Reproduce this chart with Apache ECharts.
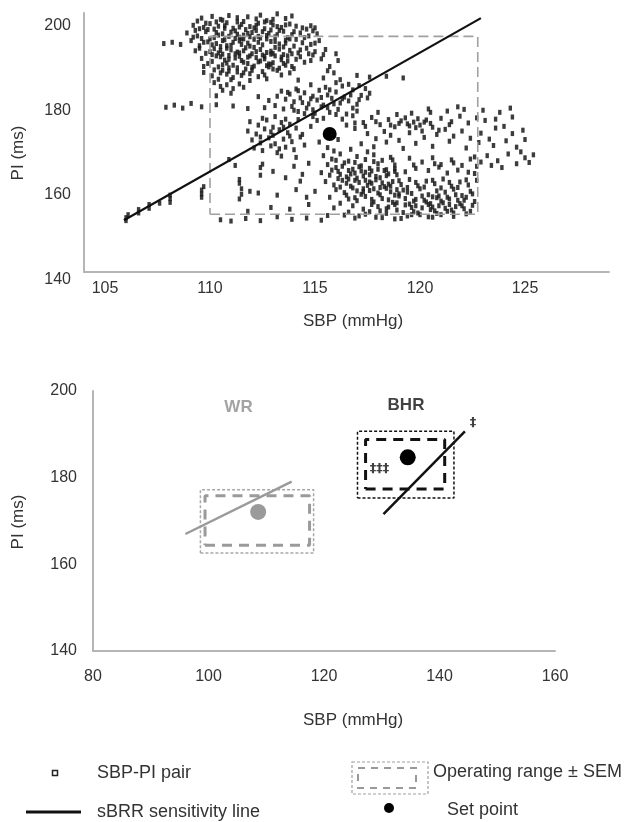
<!DOCTYPE html>
<html>
<head>
<meta charset="utf-8">
<script src="https://cdn.jsdelivr.net/npm/echarts@6/dist/echarts.min.js"></script>
<style>
html,body{margin:0;padding:0;background:#fff;}
#chart{width:630px;height:822px;}
</style>
</head>
<body>
<div id="chart"></div>
<script>
// ---------- DATA ----------
// Top panel: individual SBP (mmHg) - PI (ms) pairs
const pairsUpperCluster = [
[109.6,199.8],[110.1,200.2],[110.5,199.5],[110.9,200.4],[111.3,199.9],[111.8,200.1],[112.2,199.6],[113.2,200.8],[113.6,199.7],[113.9,200.3],[110.3,198.9],[112.7,199.2],
[109.2,198.1],[109.7,197.6],[110.0,198.5],[110.4,197.9],[110.8,198.7],[111.1,197.4],[111.5,198.3],[111.9,197.8],[112.3,198.6],[112.6,197.3],[113.0,198.2],[113.4,197.6],[113.8,198.4],[114.1,197.9],[114.6,197.2],[115.0,197.5],[109.9,197.1],[111.3,198.9],[112.9,197.0],
[108.9,196.3],[109.4,195.6],[109.8,196.6],[110.2,195.2],[110.6,196.1],[110.9,195.5],[111.2,196.8],[111.6,195.8],[112.0,196.4],[112.4,195.1],[112.8,196.2],[113.1,195.4],[113.5,196.7],[113.9,195.9],[114.3,196.3],[114.7,195.6],[115.1,196.1],[109.6,195.0],[111.4,195.3],[112.2,196.9],[113.7,195.2],[114.9,196.8],
[108.2,194.1],[108.6,193.6],[109.1,194.5],[109.5,193.3],[109.9,194.2],[110.3,193.8],[110.7,194.7],[111.0,193.4],[111.4,194.4],[111.8,193.9],[112.1,194.8],[112.5,193.5],[112.9,194.3],[113.3,193.7],[113.6,194.6],[114.0,193.2],[114.4,194.0],[114.8,193.6],[115.2,194.5],[107.8,193.8],[110.5,193.1],[111.6,194.9],[113.8,194.9],
[109.3,192.1],[109.8,191.5],[110.2,192.6],[110.6,191.3],[111.0,192.3],[111.3,191.8],[111.7,192.8],[112.0,191.4],[112.4,192.4],[112.7,191.7],[113.1,192.9],[113.5,191.2],[113.8,192.2],[114.2,191.6],[114.6,192.7],[115.0,191.9],[115.5,192.4],[116.0,191.4],[110.9,191.0],[112.9,192.0],[114.9,191.1],
[109.6,190.3],[110.1,189.6],[110.5,190.7],[110.8,189.2],[111.2,190.4],[111.5,189.8],[111.9,190.9],[112.3,189.5],[112.6,190.2],[113.0,189.3],[113.4,190.6],[113.7,189.7],[114.1,190.1],[114.5,189.4],[115.3,190.2],[116.1,189.8],[110.3,190.9],[112.8,189.0],
[109.7,188.4],[110.2,187.6],[110.6,188.8],[110.9,187.3],[111.3,188.1],[111.7,187.8],[112.1,188.5],[112.5,187.2],[112.8,188.3],[113.2,187.5],[113.6,188.7],[114.0,187.9],[115.6,187.4],[109.7,187.0],
[110.1,186.2],[110.4,185.4],[110.8,186.6],[111.1,185.8],[111.5,186.3],[111.9,185.1],[112.3,186.0],[112.7,185.5],[113.4,186.4],[114.2,185.2],[117.0,186.3],[117.6,185.9],[118.4,186.1],[119.2,185.7],
[110.2,184.6],[110.5,183.7],[110.8,184.1],[111.1,183.2],[111.4,184.3],[110.6,182.8],[111.0,182.1],[110.3,181.5],[111.6,183.5],
[107.9,178.8],[108.3,179.3],[108.7,178.6],[109.1,179.7],[109.6,178.9],[110.3,179.4],[111.1,179.1],[111.8,178.5],
[115.7,188.4],[115.9,186.9],[116.2,185.3],[115.4,185.7],[116.6,184.2],[117.1,183.9]
];
const pairsUpperCore = [
[109.8,198.6],[110.2,197.2],[110.7,198.0],[111.0,196.5],[111.4,197.7],[111.8,196.2],[112.1,197.5],[112.5,196.6],[112.9,198.8],[113.3,196.9],[110.0,194.9],[110.4,195.8],[110.8,193.3],[111.2,195.0],[111.5,193.6],[111.9,195.4],[112.3,194.1],[112.7,195.7],[113.1,194.3],[113.5,193.0],
[110.1,191.2],[110.5,192.2],[110.9,190.1],[111.4,191.6],[111.8,190.6],[112.2,191.9],[112.6,190.8],[113.0,191.5],[113.4,190.0],[113.9,191.4],[110.7,189.9],[111.1,188.7],[111.6,189.4],[112.0,188.2],[112.4,189.7],[112.9,188.9],[113.3,188.0],[111.3,187.1],[111.9,186.7],[110.6,187.5],
[109.4,199.1],[110.6,199.3],[111.6,199.0],[112.4,200.5],[113.0,199.5],[109.3,196.9],[109.5,197.3],[110.3,196.4],[110.7,197.4],[111.3,196.0],[111.7,197.1],[112.2,198.1],[112.6,198.9],[113.2,197.8],[113.6,198.2],[114.0,196.6],[114.4,197.5],[114.8,198.0],
[109.2,195.3],[109.7,194.1],[110.1,193.5],[110.6,194.5],[111.1,194.1],[111.5,194.9],[111.9,193.2],[112.3,195.5],[112.7,194.9],[113.2,195.9],[113.6,193.9],[114.1,194.8],[114.5,195.2],[115.0,193.9],
[109.5,192.7],[110.0,191.9],[110.4,191.6],[110.8,192.7],[111.2,191.4],[111.6,192.1],[112.1,192.9],[112.5,191.1],[112.9,191.3],[113.3,192.5],[113.7,190.9],[114.3,192.3],[114.7,191.4],[115.4,191.2],
[109.9,189.1],[110.4,188.3],[110.9,188.1],[111.4,190.8],[111.8,189.1],[112.2,190.5],[112.7,188.6],[113.1,190.9],[113.5,189.1],[113.9,188.4],[114.3,190.7],[114.8,189.8],[110.5,186.9],[111.0,185.3],[111.6,186.9],[112.0,187.5],[112.6,186.4],[113.0,187.8],[113.8,186.9]
];
const pairsMiddleCluster = [
[113.4,182.6],[113.8,181.9],[114.1,183.1],[114.5,182.2],[114.9,181.4],[115.2,182.8],[115.6,181.7],[116.0,182.4],[116.4,181.2],[116.8,182.9],[117.2,181.6],[117.6,182.1],[113.6,180.7],[114.0,180.1],[114.3,181.0],[114.7,179.6],[115.1,180.5],[115.4,179.3],[115.8,180.9],[116.2,179.8],[116.6,180.3],[117.0,179.5],
[113.1,179.2],[113.5,178.4],[113.9,179.0],[114.2,177.8],[114.6,178.6],[115.0,177.4],[115.3,178.9],[115.7,177.6],[116.1,178.3],[116.5,177.2],[112.8,180.4],[112.3,181.3],[112.6,178.7],[115.5,183.5],[116.3,183.8],[117.4,183.2],[114.8,184.1],[116.0,184.6],
[111.9,175.4],[112.3,174.6],[112.7,175.8],[113.0,174.1],[113.4,175.2],[113.8,174.8],[114.2,175.9],[111.8,173.2],[112.2,172.5],[112.6,173.7],[113.0,172.2],[113.3,173.5],[113.7,172.8],[114.1,173.9],[114.4,172.4],
[112.0,171.1],[112.4,170.4],[112.8,171.6],[113.1,170.2],[113.5,171.3],[113.9,170.7],[114.3,171.8],[112.1,169.2],[112.5,168.6],[112.9,169.7],[113.2,168.1],[113.6,169.4],[114.0,168.8],[114.5,169.9],[113.4,167.3],[114.1,167.0],
[114.8,174.3],[115.1,175.7],[114.9,176.6],[115.4,176.2],[116.3,176.0],[116.9,175.1],[115.2,170.6],[115.6,169.3],[116.1,171.2],
[113.2,181.4],[113.7,182.3],[114.2,182.7],[114.4,179.9],[114.8,180.8],[115.3,181.1],[115.7,182.9],[115.9,179.6],[116.3,180.8],[116.7,181.7],[117.1,180.6],[117.5,181.0],[114.0,178.1],[114.5,177.3],[114.9,178.2],[115.6,178.7],[116.0,177.1],[116.8,178.6],
[112.5,176.2],[113.1,176.6],[113.6,176.0],[112.9,173.0],[113.5,174.1],[112.4,171.8],[113.3,169.0],[113.8,172.0]
];
const pairsRightCluster = [
[116.8,176.8],[117.3,175.2],[117.7,176.4],[118.1,174.7],[118.5,175.9],[118.8,174.2],[119.1,175.6],[119.4,174.9],[119.7,175.3],[120.0,174.6],[120.3,175.8],[120.6,174.1],[119.3,176.3],[119.9,176.1],
[118.3,173.1],[117.5,172.6],[117.9,171.4],[118.6,172.2],[119.0,171.0],[119.5,172.8],[120.2,171.7],[120.8,172.4],[121.2,173.6],[121.6,172.0],[122.0,173.2],[122.4,171.5],[122.9,172.7],[123.3,171.3],
[121.0,176.2],[121.5,175.4],[121.9,176.7],[122.3,175.1],[122.7,176.3],[123.1,175.7],[123.6,176.0],[124.0,174.3],[124.4,176.5],[120.5,177.6],[121.3,177.9],[122.1,178.3],[123.0,178.1],[123.8,177.6],[124.3,178.6],[120.4,178.4],[121.8,178.9],
[117.2,170.2],[117.8,169.5],[118.4,170.6],[119.2,169.1],[119.8,170.3],[120.6,169.6],[121.4,170.8],[122.2,169.2],[122.8,170.5],[123.5,169.8],[124.1,170.9],[124.6,169.4],[116.9,173.8],[117.4,174.3],[118.9,177.1],[119.6,177.4],[120.1,173.2],[116.5,174.6],[117.0,177.9],[118.0,177.6],
[123.2,167.4],[123.7,166.2],[124.2,167.8],[124.6,165.5],[125.0,166.9],[125.4,167.6],[125.2,165.8],[124.8,168.3],[123.9,164.6],[123.4,165.1],[124.4,172.6],[125.0,171.2],[124.9,173.4],[123.6,173.9],[122.6,167.1],[122.9,165.9],
[119.0,175.0],[119.5,174.4],[119.8,174.0],[120.2,175.3],[120.5,175.0],[118.6,174.6],[117.9,175.4],[121.4,174.7],[120.9,173.4]
];
const pairsLowerCluster = [
[115.4,167.4],[115.8,166.6],[116.2,167.8],[116.6,166.1],[117.0,167.2],[117.4,166.5],[117.8,167.6],[118.2,166.3],[118.6,167.0],[115.6,165.3],[116.0,164.6],[116.4,165.7],[116.8,164.2],[117.2,165.0],[117.6,164.4],[118.0,165.5],[118.4,164.1],[118.8,165.2],
[115.3,163.4],[115.7,162.8],[116.1,163.7],[116.5,162.4],[116.9,163.3],[117.3,162.6],[117.7,163.8],[118.1,162.2],[118.5,163.1],[118.9,162.9],[119.3,163.6],[115.9,168.5],[116.7,168.9],[117.5,168.3],
[119.5,166.8],[120.1,165.9],[120.6,166.9],[121.0,165.3],[121.5,166.4],[122.0,165.1],[122.4,166.6],[119.8,164.4],[120.4,163.9],[120.9,164.7],[121.3,163.3],[121.8,164.0],[122.3,163.5],[122.7,164.9],
[115.5,161.3],[115.9,160.5],[116.3,161.6],[116.7,160.2],[117.1,161.1],[117.5,160.4],[117.9,161.7],[118.3,160.1],[118.7,161.3],[119.1,160.6],[119.5,161.8],[119.9,160.3],[120.3,161.4],[120.7,160.8],[121.1,161.9],[121.5,160.2],[121.9,161.2],[122.3,160.5],[122.7,161.6],
[116.0,159.4],[116.4,158.7],[116.8,159.8],[117.2,158.3],[117.6,159.2],[118.0,158.6],[118.4,159.7],[118.8,158.1],[119.2,159.3],[119.6,158.5],[120.0,159.6],[120.4,158.2],[120.8,159.1],[121.2,158.8],[121.6,159.5],[122.0,158.0],[122.4,159.0],
[115.7,157.6],[116.6,157.2],[117.4,157.8],[118.2,157.3],[119.0,157.9],[119.8,157.1],[120.6,157.7],[121.4,157.2],[122.2,157.6],[117.0,156.8],[117.8,156.5],
[116.8,155.6],[117.3,154.8],[117.7,155.9],[118.1,154.4],[118.5,155.3],[118.9,154.6],[119.3,155.8],[119.7,154.2],[120.1,155.1],[120.5,154.7],[120.9,155.6],[121.3,154.3],[121.7,155.4],[122.1,154.9],[122.5,155.7],
[116.4,153.4],[116.9,152.7],[117.4,153.6],[117.9,152.9],[118.4,153.8],[118.8,152.5],[119.4,153.2],[119.9,153.9],[120.4,153.0],[121.0,153.5],[121.6,153.1],[122.2,153.7],
[116.2,156.2],[118.7,156.4],[119.5,156.0],[120.3,156.5],[121.1,156.3],[121.9,156.1],[122.6,156.6],[116.6,154.1],[115.9,155.1]
];
const pairsLowerCore = [
[116.2,163.0],[116.6,163.9],[117.0,162.1],[117.4,163.5],[117.9,162.5],[118.3,163.9],[116.9,161.6],[117.3,159.6],[117.7,160.9],[118.1,159.9],[118.5,160.7],[118.9,159.4],[116.5,160.9],[116.1,162.0],[118.6,158.9],
[119.0,158.4],[119.4,158.8],[119.8,155.6],[120.2,156.9],[120.6,155.3],[121.0,156.7],[121.4,155.9],[121.8,156.9],[120.8,157.5],[119.6,153.5],[120.7,154.4],[121.5,154.6],[117.6,161.2],[118.8,163.7],[117.1,164.8],
[115.8,164.0],[116.3,164.9],[116.7,163.1],[117.2,163.8],[117.6,162.9],[118.0,164.2],[118.4,162.7],[118.8,164.3],[116.2,160.0],[116.6,161.9],[117.0,159.1],[117.4,161.6],[117.8,159.6],[118.2,161.0],[118.6,160.2],[119.0,161.5],[119.4,159.9],[119.8,161.1],[120.2,160.0],[120.6,161.6],[121.0,159.8],[121.4,161.1],[121.8,159.9],[122.2,161.7],
[116.5,158.1],[116.9,157.5],[117.3,158.9],[117.7,157.1],[118.1,158.2],[118.5,157.0],[118.9,156.3],[119.3,157.3],[119.7,156.7],[120.1,157.9],[120.5,156.1],[120.9,157.9],[121.3,157.6],[121.7,158.2],[122.1,156.9],[122.5,158.4],
[117.6,154.2],[118.0,155.4],[118.4,154.9],[118.8,155.9],[119.2,154.0],[119.6,155.2],[120.0,153.5],[120.4,155.9],[120.8,153.8],[121.2,155.0],[121.6,153.9],[122.0,155.6],[122.4,154.3],[117.1,153.2],[118.2,152.8],[119.1,152.6],[120.6,152.9],
[116.0,166.3],[116.9,165.8],[117.8,166.0],[118.7,166.4],[119.7,165.2],[120.7,165.5],[121.6,165.7],[122.6,163.2]
];
const pairsSparse = [
[106.0,152.1],[106.0,152.8],[106.1,153.5],[106.6,153.9],[106.6,154.7],[107.1,155.0],[107.1,155.9],[107.6,156.2],[108.1,156.4],[108.1,157.3],[108.1,158.1],[109.6,157.6],[109.6,158.4],[109.6,159.3],[109.7,160.1],
[111.4,161.8],[111.4,160.9],[111.5,159.6],[111.5,158.3],[111.4,157.2],[111.9,159.0],[112.3,158.6],[112.4,162.8],[112.4,164.6],[112.5,165.4],[113.0,163.7],[113.6,162.2],[114.0,164.9],[114.4,163.0],[114.7,165.6],
[113.2,158.1],[114.1,159.4],[114.6,157.6],[115.0,159.0],[114.3,161.4],[112.9,155.2],[113.8,154.8],[114.7,155.9],
[110.5,152.3],[111.0,152.0],[111.7,152.6],[112.4,152.1],[113.2,153.0],[113.9,152.4],[114.6,152.7],[115.3,152.2],[115.6,153.3],[111.8,154.3],[110.9,166.5],[111.2,165.1]
];

// Top panel summary values
const topRangeSbp = [110.0, 122.75];
const topRangePi = [153.6, 195.5];
const topLineSbp = [105.9, 122.9];
const topLinePi = [152.2, 199.8];
const topSetPoint = [115.7, 172.5];

// Bottom panel: WR and BHR group summaries
const groupNames = ['WR', 'BHR'];
const groupNamePos = [[105.2, 196.3], [134.2, 196.7]];
const wrOuterSbp = [98.6, 118.2];
const wrOuterPi = [162.6, 177.2];
const wrInnerSbp = [99.4, 117.5];
const wrInnerPi = [164.4, 175.8];
const wrLineSbp = [96.0, 114.4];
const wrLinePi = [167.0, 179.1];
const wrSetPoint = [108.6, 172.1];
const bhrOuterSbp = [125.8, 142.5];
const bhrOuterPi = [175.3, 190.7];
const bhrInnerSbp = [127.2, 140.9];
const bhrInnerPi = [177.4, 188.8];
const bhrLineSbp = [130.3, 144.4];
const bhrLinePi = [171.6, 190.7];
const bhrSetPoint = [134.5, 184.7];
const markText = ['‡‡‡', '‡'];
const markPos = [[129.6, 182.1], [145.8, 192.6]];

// Axis ticks
const topXTicks = [105, 110, 115, 120, 125];
const topYTicks = [140, 160, 180, 200];
const botXTicks = [80, 100, 120, 140, 160];
const botYTicks = [140, 160, 180, 200];

// ---------- HELPERS ----------
function rectPath(xs, ys) {
  return [[xs[0], ys[0]], [xs[1], ys[0]], [xs[1], ys[1]], [xs[0], ys[1]], [xs[0], ys[0]]];
}
function seg(xs, ys) { return [[xs[0], ys[0]], [xs[1], ys[1]]]; }

const FONT = '"Liberation Sans", Arial, Helvetica, sans-serif';
const axisColor = '#b5b5b5';
const labelColor = '#333';

function lineSeries(xi, data, color, width, type) {
  return {
    type: 'line', xAxisIndex: xi, yAxisIndex: xi, data: data,
    symbol: 'none', silent: true, animation: false,
    lineStyle: { color: color, width: width, type: type || 'solid', cap: 'butt' },
    z: 3
  };
}
function dotSeries(xi, pt, color, size) {
  return {
    type: 'scatter', xAxisIndex: xi, yAxisIndex: xi, data: [pt],
    symbol: 'circle', symbolSize: size, itemStyle: { color: color, opacity: 1 }, z: 5, silent: true
  };
}

const allPairs = [].concat(pairsUpperCluster, pairsUpperCore, pairsMiddleCluster, pairsRightCluster, pairsLowerCluster, pairsLowerCore, pairsSparse);

const chart = echarts.init(document.getElementById('chart'), null, { renderer: 'canvas' });

const option = {
  animation: false,
  backgroundColor: '#fff',
  textStyle: { fontFamily: FONT },
  grid: [
    { left: 84, top: 13, width: 525, height: 259 },
    { left: 93, top: 391, width: 462, height: 260 }
  ],
  xAxis: [
    {
      gridIndex: 0, type: 'value', min: 104, max: 129, interval: 1,
      axisLine: { show: true, onZero: false, lineStyle: { color: axisColor, width: 2 } },
      axisTick: { show: false }, splitLine: { show: false },
      axisLabel: {
        color: labelColor, fontSize: 16, fontFamily: FONT, margin: 9,
        formatter: v => topXTicks.indexOf(v) >= 0 ? String(v) : ''
      }
    },
    {
      gridIndex: 1, type: 'value', min: 80, max: 160, interval: 20,
      axisLine: { show: true, onZero: false, lineStyle: { color: axisColor, width: 2 } },
      axisTick: { show: false }, splitLine: { show: false },
      axisLabel: {
        color: labelColor, fontSize: 16, fontFamily: FONT, margin: 18,
        formatter: v => botXTicks.indexOf(v) >= 0 ? String(v) : ''
      }
    }
  ],
  yAxis: [
    {
      gridIndex: 0, type: 'value', min: 140, max: 201, interval: 20,
      axisLine: { show: true, onZero: false, lineStyle: { color: axisColor, width: 2 } },
      axisTick: { show: false }, splitLine: { show: false },
      axisLabel: {
        color: labelColor, fontSize: 16, fontFamily: FONT, margin: 13, verticalAlign: 'top',
        formatter: v => topYTicks.indexOf(v) >= 0 ? String(v) : ''
      }
    },
    {
      gridIndex: 1, type: 'value', min: 140, max: 200, interval: 20,
      axisLine: { show: true, onZero: false, lineStyle: { color: axisColor, width: 2 } },
      axisTick: { show: false }, splitLine: { show: false },
      axisLabel: {
        color: labelColor, fontSize: 16, fontFamily: FONT, margin: 16,
        formatter: v => botYTicks.indexOf(v) >= 0 ? String(v) : ''
      }
    }
  ],
  series: [
    {
      type: 'scatter', xAxisIndex: 0, yAxisIndex: 0, data: allPairs,
      symbol: 'rect', symbolSize: [3.4, 5],
      itemStyle: { color: '#1a1a1a', opacity: 0.85 }, silent: true, z: 2
    },
    lineSeries(0, rectPath(topRangeSbp, topRangePi), '#a0a0a0', 1.6, [10, 5]),
    lineSeries(0, seg(topLineSbp, topLinePi), '#111', 2.2),
    dotSeries(0, topSetPoint, '#000', 14),
    // bottom panel
    lineSeries(1, rectPath(wrOuterSbp, wrOuterPi), '#a8a8a8', 1.5, [3, 2]),
    lineSeries(1, rectPath(wrInnerSbp, wrInnerPi), '#9a9a9a', 3, [10, 7]),
    lineSeries(1, seg(wrLineSbp, wrLinePi), '#9a9a9a', 2.5),
    dotSeries(1, wrSetPoint, '#9a9a9a', 16),
    lineSeries(1, rectPath(bhrOuterSbp, bhrOuterPi), '#111', 1.5, [3, 2]),
    lineSeries(1, rectPath(bhrInnerSbp, bhrInnerPi), '#111', 3, [10, 7]),
    lineSeries(1, seg(bhrLineSbp, bhrLinePi), '#111', 2.5),
    dotSeries(1, bhrSetPoint, '#000', 16),
    {
      type: 'scatter', xAxisIndex: 1, yAxisIndex: 1, symbolSize: 0, silent: true, z: 6,
      data: groupNames.map((n, i) => ({
        value: groupNamePos[i],
        label: {
          show: true, position: 'inside', formatter: n, fontFamily: FONT,
          fontSize: 17, fontWeight: 'bold', color: i === 0 ? '#8c8c8c' : '#111'
        }
      }))
    },
    {
      type: 'scatter', xAxisIndex: 1, yAxisIndex: 1, symbolSize: 0, silent: true, z: 6,
      data: markText.map((t, i) => ({
        value: markPos[i],
        label: {
          show: true, position: 'inside', formatter: t, fontFamily: 'DejaVu Sans, sans-serif',
          fontSize: 13, fontWeight: 'bold', color: '#111'
        }
      }))
    }
  ],
  graphic: [
    { type: 'text', x: 18, y: 153, rotation: Math.PI / 2, style: { text: 'PI (ms)', font: '17px ' + FONT, fill: labelColor, align: 'center', verticalAlign: 'middle' } },
    { type: 'text', x: 303, y: 321, style: { text: 'SBP (mmHg)', font: '17px ' + FONT, fill: labelColor, align: 'left', verticalAlign: 'middle' } },
    { type: 'text', x: 18, y: 522, rotation: Math.PI / 2, style: { text: 'PI (ms)', font: '17px ' + FONT, fill: labelColor, align: 'center', verticalAlign: 'middle' } },
    { type: 'text', x: 303, y: 720, style: { text: 'SBP (mmHg)', font: '17px ' + FONT, fill: labelColor, align: 'left', verticalAlign: 'middle' } },
    // legend
    { type: 'rect', shape: { x: 52.5, y: 770.5, width: 5, height: 5 }, style: { fill: '#fff', stroke: '#222', lineWidth: 1.5 } },
    { type: 'text', x: 97, y: 773, style: { text: 'SBP-PI pair', font: '18px ' + FONT, fill: labelColor, verticalAlign: 'middle' } },
    { type: 'line', shape: { x1: 26, y1: 812, x2: 81, y2: 812 }, style: { stroke: '#111', lineWidth: 3 } },
    { type: 'text', x: 97, y: 812, style: { text: 'sBRR sensitivity line', font: '18px ' + FONT, fill: labelColor, verticalAlign: 'middle' } },
    { type: 'rect', shape: { x: 352, y: 762, width: 76, height: 32 }, style: { fill: 'none', stroke: '#a0a0a0', lineWidth: 1.2, lineDash: [3, 2] } },
    { type: 'rect', shape: { x: 358, y: 768, width: 58, height: 20 }, style: { fill: 'none', stroke: '#999', lineWidth: 2, lineDash: [7, 6] } },
    { type: 'text', x: 433, y: 772, style: { text: 'Operating range ± SEM', font: '18px ' + FONT, fill: labelColor, verticalAlign: 'middle' } },
    { type: 'circle', shape: { cx: 389, cy: 808, r: 5 }, style: { fill: '#000' } },
    { type: 'text', x: 447, y: 810, style: { text: 'Set point', font: '18px ' + FONT, fill: labelColor, verticalAlign: 'middle' } }
  ]
};
chart.setOption(option);
</script>
</body>
</html>
